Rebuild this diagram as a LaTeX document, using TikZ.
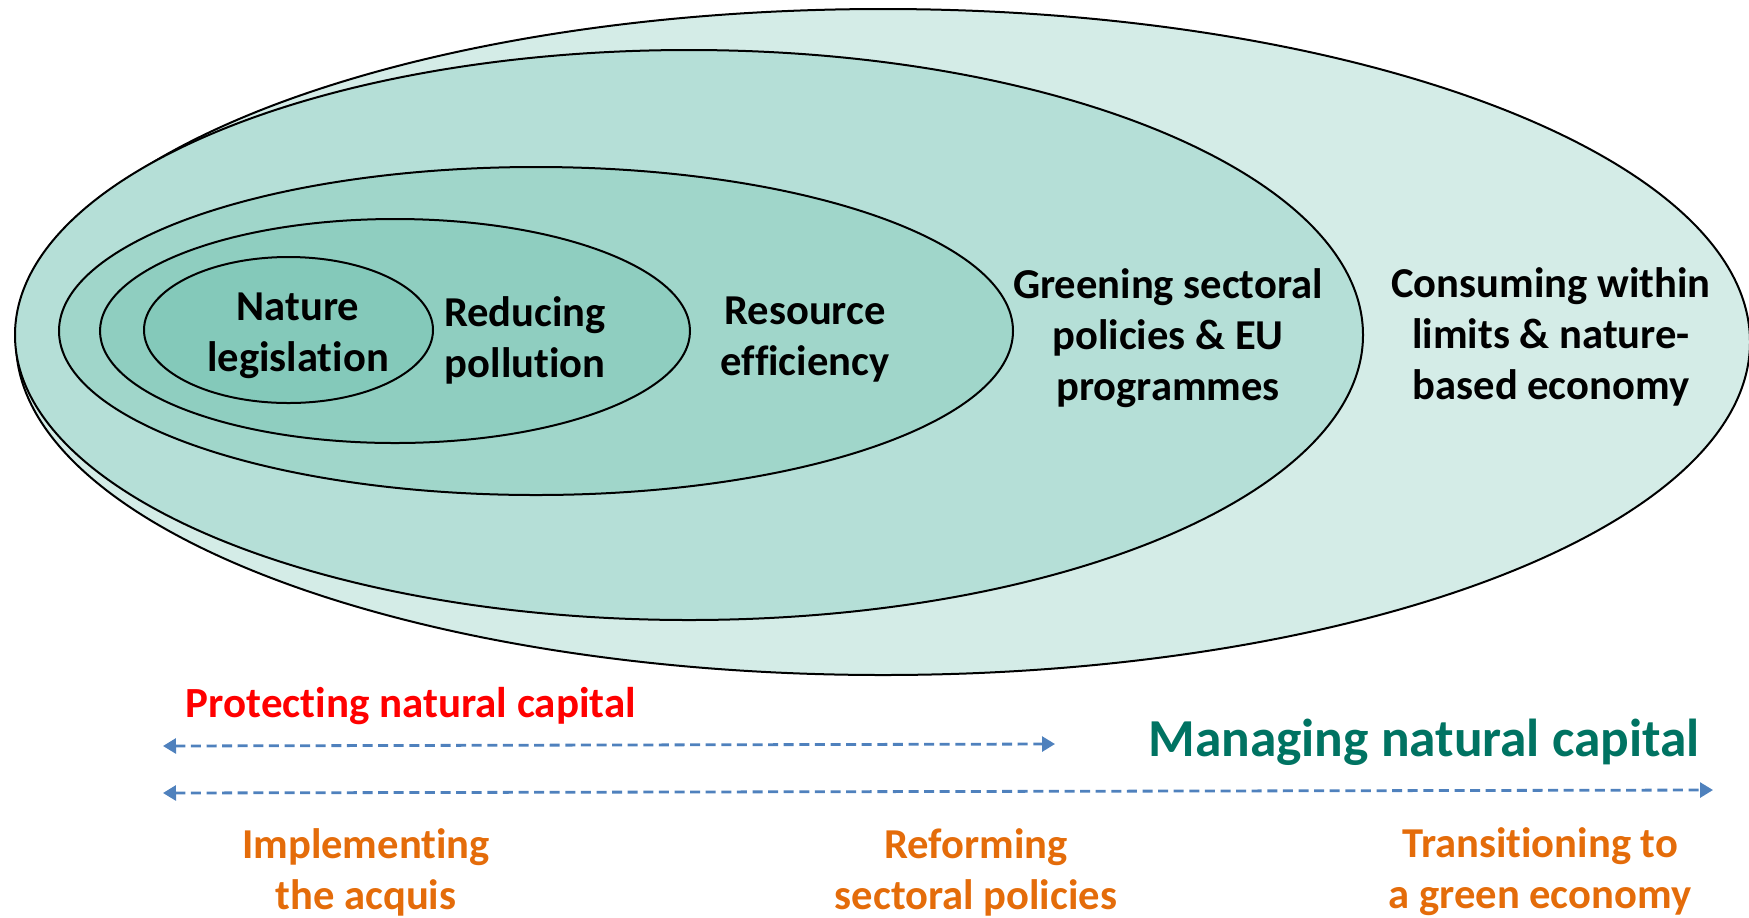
\documentclass[tikz,border=0pt]{standalone}
\usepackage{fontspec}
\setmainfont{Carlito}[Ligatures={NoCommon}]
\usetikzlibrary{arrows.meta}
\definecolor{cA}{RGB}{212,236,231}
\definecolor{cB}{RGB}{181,223,215}
\definecolor{cC}{RGB}{160,214,202}
\definecolor{cD}{RGB}{143,206,192}
\definecolor{cE}{RGB}{132,201,186}
\definecolor{arrblue}{RGB}{79,129,189}
\definecolor{txorange}{RGB}{228,108,10}
\definecolor{txred}{RGB}{255,0,0}
\definecolor{txgreen}{RGB}{0,115,98}
\tikzset{
  ring/.style={draw=black, line width=1pt},
  lbl/.style={align=center, font=\bfseries\fontsize{21.3}{25.5}\selectfont, inner sep=0pt},
  stage/.style={align=center, text=txorange, font=\bfseries\fontsize{21.3}{25.5}\selectfont, inner sep=0pt},
  span/.style={draw=arrblue, line width=1.4pt, dash pattern=on 5pt off 2.8pt, {Triangle[length=6.5pt,width=7.5pt]}-{Triangle[length=6.5pt,width=7.5pt]}}
}
\begin{document}
\begin{tikzpicture}[x=0.5pt,y=-0.5pt]
\useasboundingbox (0,0) rectangle (1749,917);
% nested ellipses
\draw[ring, fill=cA] (883,342) ellipse [x radius=433.5pt, y radius=166.5pt];
\draw[ring, fill=cB] (689,335) ellipse [x radius=337pt, y radius=142.5pt];
\draw[ring, fill=cC] (536,331) ellipse [x radius=238.5pt, y radius=82pt];
\draw[ring, fill=cD] (395,331) ellipse [x radius=147.5pt, y radius=56pt];
\draw[ring, fill=cE] (288.5,330) ellipse [x radius=72.25pt, y radius=36.5pt];
% labels
\node[lbl] (nat) at (298,336) {Nature\\legislation};
\node[lbl] (red) at (525,340) {Reducing\\pollution};
\node[lbl] (res) at (805,340) {Resource\\efficiency};
\node[lbl] (grn) at (1168,338) {Greening sectoral\\policies \& EU\\programmes};
\node[lbl] (con) at (1551,337) {Consuming within\\limits \& nature-\\based economy};
% bottom titles
\node[text=txred, font=\bfseries\fontsize{21.5}{26}\selectfont, inner sep=0pt] (prot) at (411,706) {Protecting natural capital};
\node[text=txgreen, font=\bfseries\fontsize{26.7}{32}\selectfont, inner sep=0pt] (mng) at (1424,742) {Managing natural capital};
% arrows
\coordinate (a1l) at (163,746);
\coordinate (a1r) at (1055,744);
\coordinate (a2l) at (163,793);
\coordinate (a2r) at (1713,790);
\draw[span] (a1l) -- (a1r);
\draw[span] (a2l) -- (a2r);
% stages
\node[stage] (s1) at (366,872) {Implementing\\the acquis};
\node[stage] (s2) at (976,872) {Reforming\\sectoral policies};
\node[stage] (s3) at (1540,872) {Transitioning to\\a green economy};
\end{tikzpicture}
\end{document}
